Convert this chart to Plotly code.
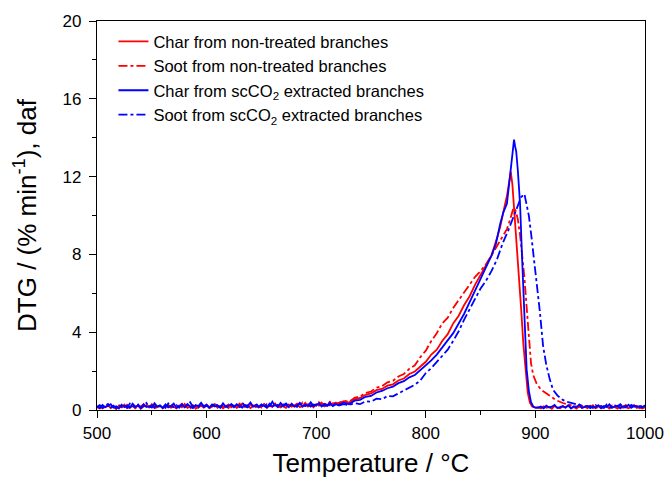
import plotly.graph_objects as go

# ---------------- data ----------------
# baseline segments (500 °C upward, 2.5 °C spacing)
rs_base = [0.12,0.22,0.08,0.17,0.25,0.10,0.19,0.06,0.23,0.14,
           0.28,0.09,0.16,0.21,0.11,0.26,0.07,0.18,0.24,0.13,
           0.30,0.10,0.15,0.22,0.08,0.20,0.27,0.12,0.17,0.09,
           0.24,0.14,0.31,0.11,0.19,0.25,0.07,0.16,0.22,0.13,
           0.28,0.10,0.18,0.26,0.12,0.21,0.09,0.17,0.29,0.14,
           0.23,0.11,0.19,0.33,0.15,0.24,0.10,0.20,0.27,0.13,
           0.18,0.30,0.12,0.22,0.16,0.34,0.14,0.25,0.19,0.11,
           0.28,0.17,0.23,0.32,0.15,0.21,0.36,0.18,0.26,0.14,
           0.30,0.22,0.38,0.19,0.27,0.24,0.35,0.29]
rd_base = [0.15,0.08,0.21,0.13,0.26,0.11,0.18,0.07,0.24,0.16,
           0.10,0.27,0.14,0.20,0.09,0.23,0.17,0.30,0.12,0.19,
           0.08,0.25,0.15,0.21,0.11,0.28,0.13,0.18,0.24,0.10,
           0.20,0.32,0.14,0.17,0.09,0.26,0.19,0.12,0.29,0.15,
           0.22,0.11,0.18,0.31,0.13,0.25,0.16,0.21,0.10,0.27,
           0.19,0.14,0.33,0.17,0.23,0.12,0.28,0.20,0.15,0.26,
           0.13,0.31,0.18,0.24,0.16,0.36,0.21,0.14,0.29,0.19,
           0.25,0.33,0.17,0.28,0.22,0.38,0.20,0.30,0.26,0.34,
           0.23,0.40,0.28,0.32,0.27,0.42,0.31,0.37]
bs_base = [0.18,0.10,0.26,0.14,0.21,0.30,0.12,0.19,0.08,0.27,
           0.15,0.23,0.11,0.32,0.17,0.22,0.09,0.28,0.16,0.20,
           0.13,0.35,0.18,0.24,0.11,0.29,0.15,0.21,0.33,0.12,
           0.19,0.26,0.14,0.31,0.17,0.10,0.25,0.20,0.37,0.15,
           0.22,0.13,0.28,0.18,0.24,0.11,0.34,0.16,0.21,0.27,
           0.14,0.30,0.19,0.12,0.26,0.22,0.39,0.17,0.23,0.15,
           0.29,0.20,0.13,0.33,0.18,0.25,0.16,0.36,0.21,0.27,
           0.14,0.31,0.19,0.24,0.35,0.17,0.28,0.22,0.40,0.20,
           0.26,0.33,0.18,0.30,0.24,0.37,0.21,0.32]
bd_base = [0.16,0.25,0.11,0.20,0.31,0.14,0.22,0.09,0.27,0.17,
           0.24,0.12,0.33,0.19,0.15,0.28,0.10,0.21,0.36,0.16,
           0.23,0.13,0.29,0.18,0.26,0.11,0.34,0.20,0.15,0.25,
           0.12,0.30,0.19,0.24,0.40,0.17,0.22,0.14,0.32,0.20,
           0.27,0.13,0.18,0.35,0.21,0.15,0.29,0.24,0.11,0.31,
           0.19,0.26,0.16,0.38,0.22,0.14,0.28,0.20,0.33,0.17,
           0.25,0.12,0.30,0.21,0.43,0.18,0.27,0.15,0.24,0.34,
           0.19,0.29,0.22,0.16,0.37,0.25,0.20,0.31,0.18,0.28,
           0.23,0.35,0.17,0.26,0.21,0.30,0.19,0.27]

# Char from non-treated branches: main event
rs_T = [720,725,730,735,740,745,750,755,760,765,770,775,780,785,790,795,800,805,810,815,820,825,830,835,840,845,850,855,860,865,868,871,874,876,877.5,879,881,883,885,887,889,891,893,895,897,900]
rs_v = [0.30,0.45,0.38,0.55,0.62,0.78,0.85,1.02,1.08,1.25,1.32,1.52,1.62,1.85,1.98,2.25,2.48,2.85,3.10,3.55,3.90,4.45,4.85,5.40,5.85,6.45,6.95,7.45,7.95,8.85,9.45,10.25,11.0,11.7,12.25,11.6,10.1,8.6,7.0,5.2,3.4,1.9,0.9,0.38,0.18,0.12]
rs_tail0 = 902.5
rs_tail = [0.14,0.08,0.19,0.11,0.16,0.06,0.21,0.12,0.09,0.18,
           0.13,0.24,0.10,0.15,0.07,0.20,0.12,0.17,0.09,0.22,
           0.11,0.14,0.19,0.08,0.16,0.23,0.10,0.13,0.18,0.07,
           0.21,0.12,0.15,0.09,0.19,0.25,0.11,0.16,0.08,0.14]

# Soot from non-treated branches
rd_T = [720,725,730,735,740,745,750,755,760,765,770,775,780,785,790,795,800,805,810,815,820,825,830,835,840,845,850,855,860,865,870,874,877,880,882,884,886,888,890,892,894,896,898,901,905,909,914,919,925,931,937]
rd_v = [0.35,0.48,0.42,0.62,0.70,0.88,0.95,1.15,1.22,1.42,1.50,1.72,1.85,2.12,2.30,2.72,3.05,3.55,3.95,4.45,4.75,5.25,5.65,6.05,6.45,6.85,7.15,7.50,7.95,8.45,8.95,9.30,9.80,10.40,10.25,9.80,9.00,8.00,6.80,5.30,3.70,2.40,1.80,1.37,1.05,0.90,0.68,0.50,0.36,0.25,0.18]
rd_tail0 = 940
rd_tail = [0.16,0.22,0.11,0.19,0.13,0.25,0.09,0.17,0.21,0.12,
           0.18,0.08,0.23,0.14,0.10,0.20,0.15,0.26,0.11,0.17,
           0.13,0.21,0.09,0.16,0.19]

# Char from scCO2 extracted branches
bs_T = [720,725,730,735,740,745,750,755,760,765,770,775,780,785,790,795,800,805,810,815,820,825,830,835,840,845,850,855,860,864,868,871,874,876,878,879.5,880.5,881.5,882.5,884,886,888,890,892,894,896,898,900]
bs_v = [0.25,0.38,0.30,0.48,0.52,0.68,0.72,0.90,0.98,1.12,1.20,1.38,1.48,1.68,1.80,2.05,2.25,2.55,2.85,3.20,3.55,3.95,4.45,4.95,5.55,6.15,6.70,7.30,7.95,8.55,9.60,10.20,10.60,11.60,12.70,13.40,13.90,13.55,13.30,12.30,10.60,7.60,5.00,2.10,1.00,0.40,0.18,0.12]
bs_tail0 = 902.5
bs_tail = [0.11,0.18,0.09,0.22,0.13,0.17,0.26,0.10,0.15,0.20,
           0.12,0.24,0.08,0.19,0.14,0.28,0.11,0.16,0.21,0.09,
           0.18,0.13,0.25,0.10,0.20,0.15,0.29,0.12,0.17,0.22,
           0.09,0.19,0.14,0.27,0.11,0.23,0.16,0.20,0.13,0.24]

# Soot from scCO2 extracted branches
bd_T = [720,725,730,735,740,745,750,755,760,765,770,775,780,785,790,795,800,805,810,815,820,825,830,835,840,845,850,855,860,865,870,875,880,884,887,890,892,894,896,898,901,904,907,910,913,916,920,925,930,935,940,945]
bd_v = [0.22,0.30,0.25,0.35,0.30,0.45,0.42,0.58,0.55,0.72,0.70,0.85,0.98,1.15,1.30,1.52,1.90,2.15,2.45,2.75,3.10,3.55,4.05,4.65,5.20,5.75,6.25,6.65,7.15,7.75,8.55,9.20,9.95,10.55,10.95,11.10,10.60,10.00,9.10,8.10,6.70,5.10,3.30,2.30,1.60,1.05,0.75,0.52,0.40,0.34,0.25,0.20]
bd_tail0 = 950
bd_tail = [0.18,0.12,0.25,0.15,0.21,0.10,0.28,0.16,0.13,0.23,
           0.19,0.30,0.14,0.20,0.11,0.26,0.17,0.22,0.15,0.27,0.18]

names = [
    "Char from non-treated branches",
    "Soot from non-treated branches",
    "Char from scCO<sub>2</sub> extracted branches",
    "Soot from scCO<sub>2</sub> extracted branches",
]

STEP = 2.5


def grid(start, n):
    return [start + STEP * i for i in range(n)]


def assemble(base, T, v, tail0, tail):
    x = grid(500, len(base)) + T + grid(tail0, len(tail))
    y = base + v + tail
    return x, y


DASHDOT = "9px,3px,3px,3px"
series = [
    (assemble(rs_base, rs_T, rs_v, rs_tail0, rs_tail), "#FF0000", "solid"),
    (assemble(rd_base, rd_T, rd_v, rd_tail0, rd_tail), "#FF0000", DASHDOT),
    (assemble(bs_base, bs_T, bs_v, bs_tail0, bs_tail), "#0000FF", "solid"),
    (assemble(bd_base, bd_T, bd_v, bd_tail0, bd_tail), "#0000FF", DASHDOT),
]

FONT = "Arial, 'Liberation Sans', sans-serif"

fig = go.Figure()
for ((x, y), c, d), n in zip(series, names):
    fig.add_trace(go.Scatter(x=x, y=y, mode="lines", name=n,
                             line=dict(color=c, width=1.8, dash=d)))

axis_common = dict(
    showgrid=False, zeroline=False, showline=True, mirror=True,
    linecolor="black", linewidth=1.3, automargin=False,
    ticks="outside", ticklen=7, tickwidth=1.2, tickcolor="black",
    tickfont=dict(family=FONT, size=17, color="black"),
)

fig.update_layout(
    width=667, height=479,
    margin=dict(l=97, r=22, t=21, b=69, autoexpand=False),
    paper_bgcolor="white", plot_bgcolor="white",
    font=dict(family=FONT, color="black"),
    xaxis=dict(range=[500, 1000], dtick=100, tick0=500,
               minor=dict(dtick=50, ticks="outside", ticklen=4, tickcolor="black", tickwidth=1.2),
               title=dict(text="Temperature / °C", font=dict(family=FONT, size=26), standoff=12),
               **axis_common),
    yaxis=dict(range=[0, 20], dtick=4, tick0=0,
               minor=dict(dtick=2, ticks="outside", ticklen=4, tickcolor="black", tickwidth=1.2),
               ticklabelstandoff=4,
               title=dict(text="DTG / (% min<sup>-1</sup>), daf", font=dict(family=FONT, size=26), standoff=18),
               **axis_common),
    legend=dict(x=0.03, y=0.992, xanchor="left", yanchor="top",
                bgcolor="rgba(0,0,0,0)", borderwidth=0,
                font=dict(family=FONT, size=16.5, color="black"),
                tracegroupgap=0, itemwidth=30),
    showlegend=True,
)

fig.write_html("out.html")
